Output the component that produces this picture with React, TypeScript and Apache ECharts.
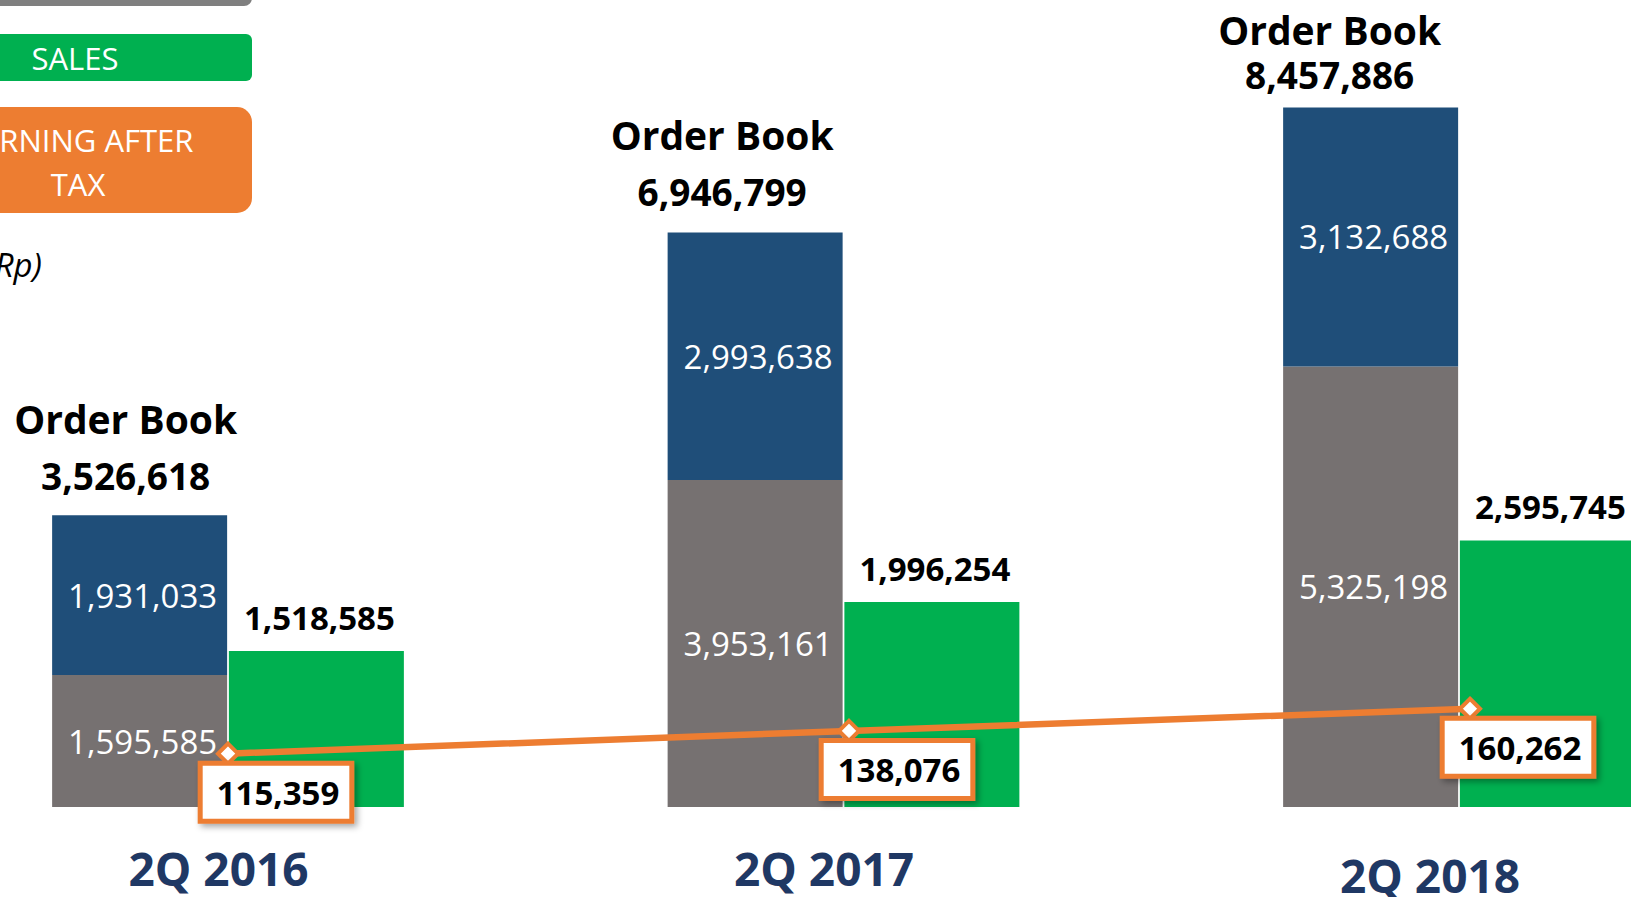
import React, { useEffect, useRef } from "react";
import * as echarts from "echarts";

const categories = ["2Q 2016", "2Q 2017", "2Q 2018"];
const orderBookBase = [1595585, 3953161, 5325198];
const orderBookNew = [1931033, 2993638, 3132688];
const orderBookTotal = [3526618, 6946799, 8457886];
const sales = [1518585, 1996254, 2595745];
const earningAfterTax = [115359, 138076, 160262];

const fmt = (v: number) => v.toLocaleString("en-US");

const FONT = "'Open Sans', 'Noto Sans', sans-serif";
const GRAY = "#767171";
const BLUE = "#1F4E79";
const GREEN = "#00B050";
const ORANGE = "#ED7D31";
const NAVY = "#1F3864";

export default function App() {
  const ref = useRef<HTMLDivElement>(null);
  useEffect(() => {
    if (!ref.current) return;
    const chart = echarts.init(ref.current, null, { renderer: "svg" });

    const totalLabelStyles = [
      { offset: [-14, 0], lh: 57, dist: 11 },
      { offset: [-33, 0], lh: 57, dist: 12 },
      { offset: [-41, 0], lh: 45, dist: 10 },
    ];
    const catLabelPads = [
      [0, 19, 0, 0],
      [0, 39, 0, 0],
      [7, 58, 0, 0],
    ];

    const option: any = {
      animation: false,
      backgroundColor: "#ffffff",
      grid: [
        { left: -79.75, width: 1846.5, top: 62.6, bottom: 90, outerBoundsMode: "none", containLabel: false },
        { left: -82.5, width: 1863, top: 62.6, bottom: 90, outerBoundsMode: "none", containLabel: false },
      ],
      xAxis: [
        {
          type: "category",
          gridIndex: 0,
          data: categories.map((c, i) => ({
            value: c,
            textStyle: { padding: catLabelPads[i] },
          })),
          axisLine: { show: false },
          axisTick: { show: false },
          axisLabel: {
            margin: 39,
            fontFamily: FONT,
            fontWeight: "bold",
            fontSize: 46,
            lineHeight: 44,
            color: NAVY,
            interval: 0,
          },
        },
        {
          type: "category",
          gridIndex: 1,
          data: categories,
          show: false,
        },
      ],
      yAxis: [
        { type: "value", gridIndex: 0, min: 0, max: 9000000, show: false },
        { type: "value", gridIndex: 0, min: 0, max: 7250000, show: false },
        { type: "value", gridIndex: 1, min: 62000, max: 806400, show: false },
      ],
      series: [
        {
          name: "Order Book (existing)",
          type: "bar",
          stack: "ob",
          xAxisIndex: 0,
          yAxisIndex: 0,
          barWidth: 175,
          barGap: "1%",
          data: orderBookBase,
          itemStyle: { color: GRAY },
          label: {
            show: true,
            position: "inside",
            offset: [3, 0],
            formatter: (p: any) => fmt(p.value),
            color: "#ffffff",
            fontFamily: FONT,
            fontSize: 33,
          },
        },
        {
          name: "Order Book (new)",
          type: "bar",
          stack: "ob",
          xAxisIndex: 0,
          yAxisIndex: 0,
          barWidth: 175,
          data: orderBookNew,
          itemStyle: { color: BLUE },
          label: {
            show: true,
            position: "inside",
            offset: [3, 0],
            formatter: (p: any) => fmt(p.value),
            color: "#ffffff",
            fontFamily: FONT,
            fontSize: 33,
          },
        },
        {
          name: "Order Book",
          type: "bar",
          stack: "ob",
          xAxisIndex: 0,
          yAxisIndex: 0,
          barWidth: 175,
          itemStyle: { color: "rgba(0,0,0,0)" },
          data: orderBookTotal.map((t, i) => ({
            value: 0,
            label: {
              show: true,
              position: "top",
              distance: totalLabelStyles[i].dist,
              offset: totalLabelStyles[i].offset,
              formatter: () => `{a|Order Book}\n{b|${fmt(t)}}`,
              rich: {
                a: {
                  fontFamily: FONT,
                  fontWeight: "bold",
                  fontSize: 39,
                  color: "#000000",
                  lineHeight: totalLabelStyles[i].lh,
                  align: "center",
                },
                b: {
                  fontFamily: FONT,
                  fontWeight: "bold",
                  fontSize: 37,
                  color: "#000000",
                  lineHeight: totalLabelStyles[i].lh,
                  align: "center",
                },
              },
            },
          })),
        },
        {
          name: "SALES",
          type: "bar",
          xAxisIndex: 0,
          yAxisIndex: 1,
          barWidth: 175,
          data: sales,
          itemStyle: { color: GREEN },
          label: {
            show: true,
            position: "top",
            distance: 17,
            offset: [3, 0],
            formatter: (p: any) => fmt(p.value),
            color: "#000000",
            fontFamily: FONT,
            fontWeight: "bold",
            fontSize: 33,
          },
        },
        {
          name: "EARNING AFTER TAX",
          type: "line",
          xAxisIndex: 1,
          yAxisIndex: 2,
          data: earningAfterTax,
          symbol: "diamond",
          symbolSize: 20,
          lineStyle: { color: ORANGE, width: 6.5 },
          itemStyle: { color: "#ffffff", borderColor: ORANGE, borderWidth: 4 },
          z: 5,
          label: {
            show: true,
            position: "bottom",
            distance: 0,
            offset: [48, 0],
            formatter: (p: any) => fmt(p.value),
            color: "#000000",
            fontFamily: FONT,
            fontWeight: "bold",
            fontSize: 33,
            backgroundColor: "#ffffff",
            borderColor: ORANGE,
            borderWidth: 5,
            padding: [10, 10, 10, 14],
            shadowColor: "rgba(0,0,0,0.35)",
            shadowBlur: 6,
            shadowOffsetX: 3,
            shadowOffsetY: 3,
          },
        },
      ],
      graphic: [
        {
          type: "rect",
          shape: { x: -100, y: -40, width: 352, height: 46, r: 8 },
          style: { fill: "#7F7F7F" },
          z: 10,
        },
        {
          type: "rect",
          shape: { x: -100, y: 34, width: 352, height: 47, r: 6 },
          style: { fill: GREEN },
          z: 10,
        },
        {
          type: "text",
          x: 75,
          y: 57.5,
          style: {
            text: "SALES",
            fill: "#ffffff",
            font: `31px ${FONT}`,
            align: "center",
            verticalAlign: "middle",
          },
          z: 11,
        },
        {
          type: "rect",
          shape: { x: -100, y: 107, width: 352, height: 106, r: 15 },
          style: { fill: ORANGE },
          z: 10,
        },
        {
          type: "text",
          x: 78,
          y: 162,
          style: {
            text: "EARNING AFTER\nTAX",
            fill: "#ffffff",
            font: `31px ${FONT}`,
            lineHeight: 44,
            align: "center",
            verticalAlign: "middle",
          },
          z: 11,
        },
        {
          type: "text",
          x: 42,
          y: 264,
          style: {
            text: "(Rp)",
            fill: "#000000",
            font: `italic 33px ${FONT}`,
            align: "right",
            verticalAlign: "middle",
          },
          z: 11,
        },
      ],
    };

    chart.setOption(option);
    return () => chart.dispose();
  }, []);

  return (
    <div
      ref={ref}
      style={{ position: "fixed", left: 0, top: 0, width: 1631, height: 897, background: "#fff" }}
    />
  );
}
